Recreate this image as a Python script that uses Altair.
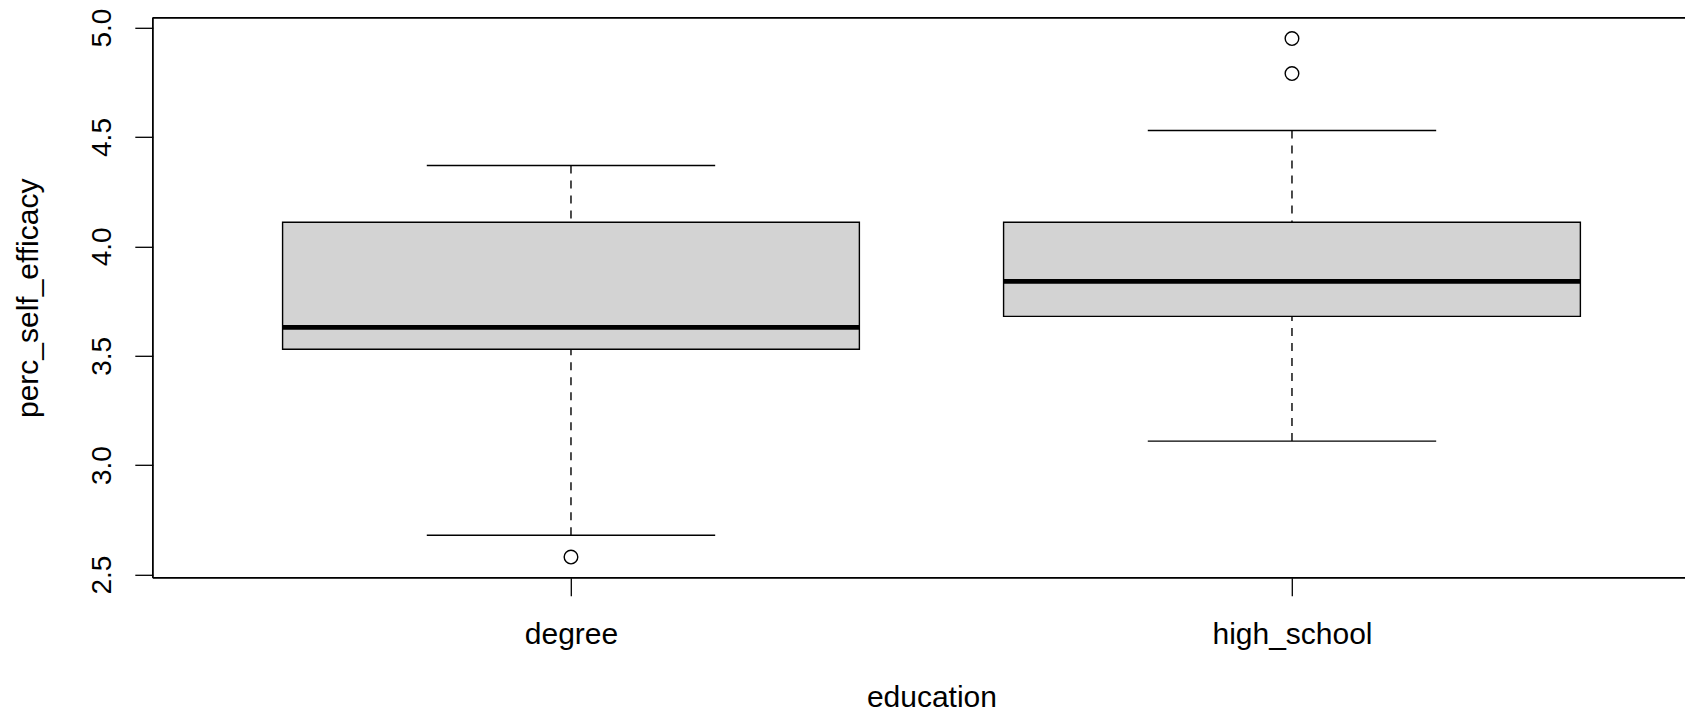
import altair as alt
import pandas as pd

# ---- data ----
categories = ["degree", "high_school"]
lower_whisker = [2.68, 3.11]
q1 = [3.53, 3.68]
median = [3.63, 3.84]
q3 = [4.11, 4.11]
upper_whisker = [4.37, 4.53]
outlier_group = ["degree", "high_school", "high_school"]
outlier_value = [2.58, 4.79, 4.95]
y_ticks = [2.5, 3.0, 3.5, 4.0, 4.5, 5.0]

pos = {c: i + 1 for i, c in enumerate(categories)}
stats = pd.DataFrame({
    "education": categories,
    "pos": [pos[c] for c in categories],
    "lo": lower_whisker, "q1": q1, "med": median, "q3": q3, "hi": upper_whisker,
})
outl = pd.DataFrame({
    "education": outlier_group,
    "pos": [pos[c] for c in outlier_group],
    "value": outlier_value,
})

FONT = "Liberation Sans"
FS_X = 30
FS_Y = 28
FS_T = 30
ymin, ymax = 2.4852, 5.0448
xmin, xmax = 0.42, 2.5451
PLOT_H = 560.0

label_expr = " : ".join(
    [f"datum.value == {pos[c]} ? '{c}'" for c in categories]
) + " : ''"

xscale = alt.Scale(domain=[xmin, xmax], nice=False, zero=False)
yscale = alt.Scale(domain=[ymin, ymax], nice=False, zero=False)

x_axis = alt.Axis(
    values=[pos[c] for c in categories], labelExpr=label_expr,
    domain=False, grid=False, tickColor="black", tickWidth=1.3, tickSize=18,
    labelFont=FONT, labelFontSize=FS_X, labelColor="black", labelPadding=23.6,
    labelBaseline="top", labelAlign="center",
    title="education", titleFont=FONT, titleFontSize=FS_T, titleFontWeight="normal",
    titleColor="black", titleBaseline="alphabetic", titleAnchor="middle",
    titleX=778.6, titleY=128.5,
)
y_axis = alt.Axis(
    values=y_ticks, format=".1f",
    domain=False, grid=False, tickColor="black", tickWidth=1.3, tickSize=18,
    labelFont=FONT, labelFontSize=FS_Y, labelColor="black", labelPadding=18,
    labelAngle=270, labelAlign="center", labelBaseline="bottom",
    title="perc_self_efficacy", titleFont=FONT, titleFontSize=FS_T,
    titleFontWeight="normal", titleColor="black", titleAngle=270,
    titleBaseline="alphabetic", titleAlign="center",
    titleX=-115.8, titleY=PLOT_H / 2,
)

base = alt.Chart(stats)

whisk_lo = base.mark_rule(color="black", strokeWidth=1.4, strokeDash=[8, 7]).encode(
    x=alt.X("pos:Q", scale=xscale, axis=x_axis),
    y=alt.Y("lo:Q", scale=yscale, axis=y_axis),
    y2="q1:Q",
)
whisk_hi = base.mark_rule(color="black", strokeWidth=1.4, strokeDash=[8, 7]).encode(
    x=alt.X("pos:Q", scale=xscale), y=alt.Y("hi:Q", scale=yscale), y2="q3:Q",
)
caps_lo = base.transform_calculate(a="datum.pos - 0.2", b="datum.pos + 0.2").mark_rule(
    color="black", strokeWidth=1.4
).encode(x=alt.X("a:Q", scale=xscale), x2="b:Q", y=alt.Y("lo:Q", scale=yscale))
caps_hi = base.transform_calculate(a="datum.pos - 0.2", b="datum.pos + 0.2").mark_rule(
    color="black", strokeWidth=1.4
).encode(x=alt.X("a:Q", scale=xscale), x2="b:Q", y=alt.Y("hi:Q", scale=yscale))
boxes = base.transform_calculate(a="datum.pos - 0.4", b="datum.pos + 0.4").mark_rect(
    fill="#D3D3D3", stroke="black", strokeWidth=1.4
).encode(x=alt.X("a:Q", scale=xscale), x2="b:Q",
         y=alt.Y("q1:Q", scale=yscale), y2="q3:Q")
meds = base.transform_calculate(a="datum.pos - 0.4", b="datum.pos + 0.4").mark_rule(
    color="black", strokeWidth=4.6
).encode(x=alt.X("a:Q", scale=xscale), x2="b:Q", y=alt.Y("med:Q", scale=yscale))

points = alt.Chart(outl).mark_point(
    shape="circle", filled=False, color="black", size=185, strokeWidth=1.4, opacity=1
).encode(x=alt.X("pos:Q", scale=xscale), y=alt.Y("value:Q", scale=yscale))

frame_top = alt.Chart(stats).mark_rule(color="black", strokeWidth=1.4).encode(
    y=alt.datum(ymax, scale=yscale))
frame_bot = alt.Chart(stats).mark_rule(color="black", strokeWidth=1.4).encode(
    y=alt.datum(ymin, scale=yscale))
frame_left = alt.Chart(stats).mark_rule(color="black", strokeWidth=1.4).encode(
    x=alt.datum(xmin, scale=xscale))

chart = alt.layer(
    whisk_lo, whisk_hi, caps_lo, caps_hi, boxes, meds, points,
    frame_top, frame_bot, frame_left,
).properties(
    width=1532.2, height=PLOT_H,
    autosize=alt.AutoSizeParams(type="none"),
    padding={"left": 144.8, "top": 9.8, "right": 0, "bottom": 135.0},
).configure_view(stroke=None).configure(background="white")

chart.save("out.html", embed_options={"renderer": "svg", "actions": False})
